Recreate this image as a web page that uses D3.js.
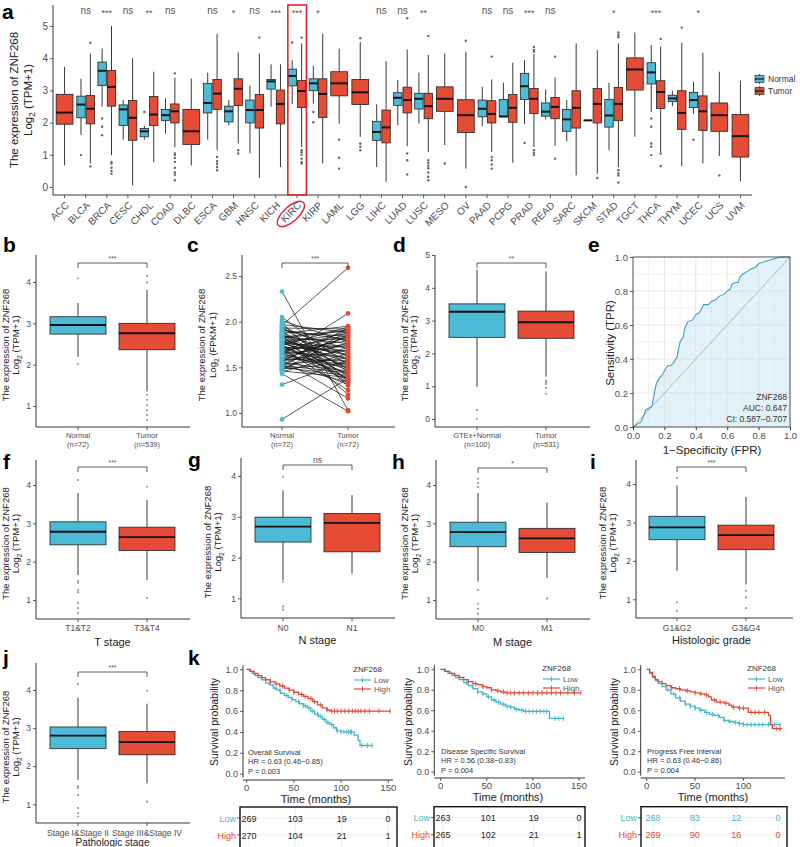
<!DOCTYPE html>
<html><head><meta charset="utf-8">
<script src="https://cdn.jsdelivr.net/npm/d3@7"></script>
<style>body{margin:0;background:#fff}svg{font-family:"Liberation Sans",Arial,Helvetica,sans-serif}</style>
</head><body><svg id="fig" width="800" height="847"></svg>
<script>
// ---------------- DATA ----------------
const cancers = ["ACC","BLCA","BRCA","CESC","CHOL","COAD","DLBC","ESCA","GBM","HNSC","KICH","KIRC","KIRP","LAML","LGG","LIHC","LUAD","LUSC","MESO","OV","PAAD","PCPG","PRAD","READ","SARC","SKCM","STAD","TGCT","THCA","THYM","UCEC","UCS","UVM"];
const sigLabels = ["","ns","***","ns","**","ns","","ns","*","ns","***","***","*","","","ns","ns","**","","","ns","ns","***","ns","","","*","","***","","*","",""];
// [lower whisker, Q1, median, Q3, upper whisker]
const normalStats = [null,[1.61,2.15,2.56,2.82,3.36],[2.49,3.15,3.61,3.88,4.3],[1.47,1.91,2.41,2.55,2.7],[1.47,1.56,1.73,1.82,1.9],[1.66,2.07,2.23,2.41,2.75],null,[1.47,2.3,2.61,3.22,3.55],[1.92,2.02,2.35,2.51,2.7],[1.04,1.99,2.39,2.7,3.15],[2.49,3.04,3.28,3.34,3.81],[2.57,3.14,3.45,3.66,3.94],[2.59,2.99,3.22,3.36,3.77],null,null,[0.62,1.45,1.71,2.04,2.57],[1.92,2.53,2.77,2.93,3.32],[1.97,2.42,2.74,2.91,3.55],null,null,[1.89,2.18,2.43,2.7,3.11],[2.18,2.18,2.19,2.72,3.24],[1.95,2.72,3.13,3.53,3.94],[2.1,2.2,2.34,2.61,3.03],[1.42,1.73,2.1,2.41,2.7],[2.07,2.07,2.07,2.07,2.07],[1.14,1.86,2.22,2.72,3.24],null,[2.33,3.2,3.56,3.86,4.41],[2.51,2.65,2.75,2.85,2.99],[2.28,2.47,2.7,2.94,3.27],null,null];
const tumorStats = [[0.67,1.95,2.31,2.88,3.73],[0.73,1.96,2.43,2.84,4.15],[0.99,2.51,3.11,3.62,5.0],[0.05,1.45,2.15,2.69,4.0],[0.78,1.91,2.25,2.81,3.58],[1.24,1.99,2.35,2.58,3.4],[0.67,1.32,1.73,2.41,3.37],[1.14,2.41,2.9,3.34,4.75],[1.35,2.53,3.05,3.36,4.18],[0.29,1.83,2.39,2.87,4.15],[0.62,1.96,2.58,3.01,3.81],[1.24,2.47,2.98,3.31,4.46],[0.73,2.16,2.89,3.36,4.77],[1.97,2.83,3.22,3.58,4.3],[1.56,2.56,2.94,3.34,4.5],[0.16,1.37,1.85,2.39,3.91],[1.27,2.3,2.7,3.1,4.27],[1.09,2.12,2.51,2.91,4.1],[1.3,2.35,2.74,3.11,4.15],[0.57,1.69,2.23,2.71,4.2],[1.09,1.99,2.27,2.68,3.34],[0.75,2.01,2.46,2.87,3.86],[1.24,2.28,2.74,3.06,4.13],[1.28,2.12,2.49,2.78,3.4],[0.36,1.83,2.46,2.99,4.46],[0.41,1.99,2.58,3.06,4.25],[0.62,2.06,2.58,3.09,4.46],[1.56,3.01,3.65,4.01,4.8],[1.09,2.44,2.95,3.3,4.36],[0.65,1.79,2.3,2.99,4.48],[0.73,1.76,2.35,2.83,4.17],[0.96,1.73,2.23,2.61,3.58],[0.18,0.93,1.58,2.25,3.3]];
const normalOutliers = [[],[0.99],[2.13,1.87,1.61],[],[2.33],[],[],[],[],[],[],[4.49],[2.33,2.01],[],[],[],[],[],[],[],[],[],[1.37],[],[],[],[],[],[2.13,1.87,1.35,1.25,0.99],[],[1.47],[],[]];
const tumorOutliers = [[],[4.48,0.64],[0.78,0.72,0.6,0.5,0.41],[],[],[3.53,1.04,0.99,0.9,0.78,0.6,0.45,0.38,0.21],[],[0.93,0.8,0.72,0.62,0.52],[1.14,1.04],[4.64],[],[4.64,1.14,1.08,1.0,0.88,0.78,0.73],[],[1.47,0.91,0.57],[4.62,1.35,1.25,1.14],[],[5.24,1.04,0.83,0.39],[4.69,0.83,0.75,0.66,0.58,0.45,0.32,0.21],[0.73],[4.54,0.0],[4.05,0.93,0.83,0.7,0.57],[],[4.35,4.26,4.2,1.14,1.06,0.99],[4.05,0.88],[],[0.28],[4.8,4.72,4.65,0.52,0.42,0.36,0.14],[],[4.6,1.04,0.65],[4.95],[],[0.36],[]];
const tpmTicks = [0,1,2,3,4,5];

// panel b
const bGroups = ["Normal\n(n=72)","Tumor\n(n=539)"];
const bStats = [[2.19,2.74,2.96,3.16,3.49],[1.35,2.36,2.76,3.0,3.81]];
const bOut = [[2.02,4.09],[4.15,3.99,1.27,1.15,1.02,0.9,0.78,0.66]];
// panel c (paired)
const cGroups = ["Normal\n(n=72)","Tumor\n(n=72)"];
const cNormal = [2.33,2.05,2.01,1.98,1.97,1.95,1.94,1.93,1.92,1.90,1.89,1.88,1.87,1.86,1.85,1.85,1.84,1.83,1.82,1.81,1.80,1.80,1.79,1.78,1.77,1.76,1.76,1.75,1.74,1.73,1.72,1.71,1.70,1.70,1.69,1.68,1.67,1.66,1.65,1.64,1.63,1.62,1.61,1.60,1.59,1.58,1.57,1.56,1.55,1.54,1.53,1.52,1.51,1.50,1.49,1.48,1.47,1.46,1.45,1.43,1.96,1.91,1.87,1.83,1.78,1.74,1.69,1.64,1.58,1.52,1.31,0.93];
const cTumor = [1.03,1.52,1.78,1.35,1.88,1.62,1.45,1.92,1.70,1.30,1.84,1.58,1.95,1.40,1.66,1.20,1.76,1.49,1.90,1.55,1.33,1.81,1.64,1.42,1.87,1.59,1.72,1.38,1.94,1.47,1.68,1.25,1.85,1.53,1.79,1.36,1.61,1.90,1.44,1.74,2.09,1.50,1.31,1.83,1.57,1.16,1.69,1.93,1.46,1.77,1.60,1.34,1.89,1.41,1.72,1.55,1.86,1.39,1.65,1.02,2.59,1.80,1.48,1.91,1.63,1.37,1.75,1.52,1.84,1.44,1.58,1.38];
// panel d
const dGroups = ["GTEx+Normal\n(n=100)","Tumor\n(n=531)"];
const dStats = [[0.98,2.49,3.27,3.51,4.55],[1.29,2.46,2.95,3.29,4.5]];
const dOut = [[0.27,0.0],[1.17,1.12,1.07,0.95,0.77]];
// panel e ROC
const rocFPR = [0,0.02,0.03,0.05,0.06,0.07,0.08,0.1,0.12,0.13,0.14,0.15,0.17,0.19,0.2,0.22,0.24,0.26,0.28,0.29,0.3,0.32,0.33,0.34,0.35,0.38,0.4,0.42,0.44,0.45,0.48,0.5,0.53,0.55,0.58,0.6,0.62,0.63,0.65,0.67,0.68,0.7,0.72,0.75,0.78,0.8,0.83,0.86,0.9,0.94,1.0];
const rocTPR = [0,0.01,0.02,0.03,0.05,0.07,0.1,0.11,0.12,0.17,0.22,0.26,0.29,0.31,0.33,0.36,0.36,0.38,0.41,0.46,0.5,0.53,0.58,0.6,0.62,0.63,0.66,0.67,0.7,0.72,0.72,0.74,0.75,0.77,0.78,0.8,0.81,0.84,0.85,0.85,0.88,0.9,0.91,0.93,0.94,0.96,0.97,0.98,0.99,1.0,1.0];
const rocTicks = [0,0.2,0.4,0.6,0.8,1.0];
// panels f-j
const fGroups = ["T1&T2","T3&T4"];
const fStats = [[1.65,2.44,2.78,3.04,3.79],[1.52,2.29,2.64,2.9,3.61]];
const fOut = [[4.13,1.5,1.45,1.26,1.2,0.92,0.79,0.66],[3.96,1.05]];
const gGroups = ["N0","N1"];
const gStats = [[1.45,2.38,2.76,2.99,3.65],[1.6,2.14,2.85,3.08,3.53]];
const gOut = [[3.98,1.41,0.8,0.72],[]];
const hGroups = ["M0","M1"];
const hStats = [[1.48,2.39,2.77,3.03,3.79],[1.57,2.24,2.61,2.87,3.54]];
const hOut = [[4.16,4.05,3.95,1.26,0.9,0.77,0.64],[1.04]];
const iGroups = ["G1&G2","G3&G4"];
const iStats = [[1.74,2.55,2.87,3.16,3.96],[1.39,2.29,2.67,2.93,3.66]];
const iOut = [[4.16,0.92,0.7],[1.22,1.05,0.77]];
const jGroups = ["Stage I&Stage II","Stage III&Stage IV"];
const jStats = [[1.64,2.46,2.8,3.03,3.8],[1.55,2.3,2.63,2.91,3.64]];
const jOut = [[4.16,1.48,1.43,1.24,0.9,0.77,0.68],[3.98,1.07]];
// panel k survival [time (months), survival]
const osLow = [[0,1],[3,0.98],[6,0.96],[9,0.94],[12,0.92],[16,0.9],[20,0.87],[24,0.85],[28,0.82],[32,0.8],[36,0.77],[40,0.75],[44,0.73],[48,0.71],[52,0.69],[56,0.67],[60,0.65],[64,0.63],[68,0.6],[72,0.57],[76,0.55],[80,0.52],[84,0.49],[88,0.47],[92,0.44],[95,0.41],[100,0.4],[112,0.4],[114,0.37],[118,0.32],[120,0.27],[133,0.27]];
const osHigh = [[0,1],[4,0.98],[8,0.96],[12,0.94],[16,0.92],[20,0.9],[25,0.88],[30,0.86],[35,0.84],[40,0.82],[45,0.8],[50,0.78],[55,0.76],[60,0.74],[65,0.72],[70,0.69],[75,0.66],[80,0.63],[85,0.61],[88,0.6],[152,0.6]];
const osLowCens = [30,35,42,48,55,60,62,66,70,75,78,82,86,90,96,100,103,106,108,110,111,122,128,133];
const osHighCens = [25,32,38,45,50,58,62,68,72,78,85,90,93,96,100,104,108,112,115,118,121,125,130,140,152];
const dssLow = [[0,1],[4,0.98],[8,0.96],[12,0.94],[16,0.92],[20,0.9],[25,0.87],[30,0.84],[35,0.81],[40,0.78],[45,0.76],[50,0.73],[55,0.7],[60,0.68],[65,0.66],[70,0.64],[75,0.63],[80,0.61],[85,0.6],[90,0.59],[116,0.59],[118,0.52],[133,0.52]];
const dssHigh = [[0,1],[5,0.98],[10,0.96],[15,0.94],[20,0.92],[25,0.9],[30,0.88],[35,0.86],[40,0.85],[45,0.83],[50,0.82],[55,0.8],[60,0.79],[65,0.78],[70,0.77],[152,0.77]];
const dssLowCens = [28,34,40,46,52,58,63,68,72,76,82,88,92,96,100,104,108,112,115,124,128,133];
const dssHighCens = [30,38,46,55,62,68,72,76,80,85,90,95,100,105,110,115,120,125,130,138,145,152];
const pfiLow = [[0,1],[3,0.96],[6,0.92],[9,0.89],[12,0.86],[16,0.83],[20,0.8],[25,0.76],[30,0.72],[35,0.69],[40,0.66],[45,0.64],[50,0.62],[55,0.6],[60,0.58],[65,0.56],[70,0.55],[75,0.53],[80,0.5],[85,0.49],[90,0.48],[95,0.47],[100,0.46],[138,0.46]];
const pfiHigh = [[0,1],[3,0.97],[6,0.93],[9,0.9],[12,0.88],[16,0.86],[20,0.84],[25,0.82],[30,0.81],[35,0.8],[40,0.79],[45,0.78],[50,0.77],[55,0.76],[60,0.75],[64,0.73],[67,0.7],[72,0.68],[80,0.67],[85,0.65],[88,0.63],[95,0.62],[102,0.62],[105,0.58],[120,0.58],[126,0.55],[128,0.46],[130,0.42],[140,0.42]];
const pfiLowCens = [22,28,34,40,45,50,56,62,68,74,80,86,92,96,100,104,108,112,116,120,126,132,138];
const pfiHighCens = [26,34,42,50,56,62,70,76,82,90,96,100,108,112,116,122,134,138];
const kmTimeTicks = [0,50,100,150];
const kmSurvTicks = [0,0.2,0.4,0.6,0.8,1.0];
const riskTimes = [0,50,100,150];
const osRisk = [[269,103,19,0],[270,104,21,1]];
const dssRisk = [[263,101,19,0],[265,102,21,1]];
const pfiRisk = [[268,83,12,0],[269,90,16,0]];

// ---------------- DRAW ----------------
const svg = d3.select("#fig");
const BLUE = "#4DBBD5", RED = "#E64B35", TXT = "#4d4d4d";

function txt(g, x, y, s, o = {}) {
  const t = g.append("text").attr("x", x).attr("y", y).text(s)
    .attr("font-size", o.size || 9).attr("fill", o.fill || "#222")
    .attr("text-anchor", o.anchor || "start");
  if (o.weight) t.attr("font-weight", o.weight);
  if (o.rotate != null) t.attr("transform", `rotate(${o.rotate},${x},${y})`);
  if (o.dy) t.attr("dy", o.dy);
  return t;
}
function line(g, x1, y1, x2, y2, stroke = "#000", w = 0.8) {
  return g.append("line").attr("x1", x1).attr("y1", y1).attr("x2", x2).attr("y2", y2)
    .attr("stroke", stroke).attr("stroke-width", w);
}
function yAxis(g, scale, x, ticks, fmt, size) {
  const ax = g.append("g").attr("transform", `translate(${x},0)`)
    .call(d3.axisLeft(scale).tickValues(ticks).tickFormat(fmt).tickSize(3).tickPadding(2));
  ax.select(".domain").remove();
  ax.attr("font-family", null).attr("font-size", size);
  ax.selectAll("text").attr("fill", TXT);
  ax.selectAll(".tick line").attr("stroke", "#333").attr("stroke-width", 0.8);
  return ax;
}
function yTitle(g, x1, x2, cy, size, unit) {
  txt(g, x1, cy, "The expression of ZNF268", { size, anchor: "middle", rotate: -90, dy: "0.35em" });
  const t = g.append("text").attr("transform", `translate(${x2},${cy}) rotate(-90)`)
    .attr("text-anchor", "middle").attr("font-size", size).attr("fill", "#222").attr("dy", "0.35em");
  t.append("tspan").text("Log");
  t.append("tspan").text("2").attr("font-size", size * 0.72).attr("dy", size * 0.3);
  t.append("tspan").text(" " + unit).attr("dy", -size * 0.3);
}
function box(g, cx, w, s, color, y, medW = 2) {
  const [lo, q1, med, q3, hi] = s;
  line(g, cx, y(hi), cx, y(q3), "#222", 0.9);
  line(g, cx, y(q1), cx, y(lo), "#222", 0.9);
  g.append("rect").attr("x", cx - w / 2).attr("y", y(q3)).attr("width", w)
    .attr("height", Math.max(0.01, y(q1) - y(q3))).attr("fill", color)
    .attr("stroke", "#222").attr("stroke-width", 0.8);
  line(g, cx - w / 2, y(med), cx + w / 2, y(med), "#111", medW);
}
function letter(s, x, y) { txt(svg, x, y, s, { size: 21, weight: "bold", fill: "#000" }); }

// ---------- panel a ----------
{
  const g = svg.append("g");
  const y = d3.scaleLinear().domain([0, 5]).range([187, 26]);
  const x = d3.scaleBand().domain(cancers).range([54, 751]);
  const st = x.step();
  const cx = c => x(c) + st / 2;
  line(g, 53, 5, 53, 195);
  line(g, 53, 195, 752, 195);
  yAxis(g, y, 53, tpmTicks, d3.format("d"), 10);
  cancers.forEach((c, i) => {
    const c0 = cx(c);
    line(g, c0, 195, c0, 198, "#333");
    const n = normalStats[i], t = tumorStats[i];
    if (n) {
      box(g, c0 - 4.7, 8.4, n, BLUE, y);
      box(g, c0 + 4.7, 8.4, t, RED, y);
      normalOutliers[i].forEach(v => g.append("circle").attr("cx", c0 - 4.7).attr("cy", y(v)).attr("r", 1.2).attr("fill", "#666"));
      tumorOutliers[i].forEach(v => g.append("circle").attr("cx", c0 + 4.7).attr("cy", y(v)).attr("r", 1.2).attr("fill", "#666"));
    } else {
      box(g, c0, 16.8, t, RED, y);
      tumorOutliers[i].forEach(v => g.append("circle").attr("cx", c0).attr("cy", y(v)).attr("r", 1.2).attr("fill", "#666"));
    }
    const sg = sigLabels[i];
    if (sg) txt(g, c0, sg === "ns" ? 14 : 16, sg, { size: sg === "ns" ? 10 : 9, anchor: "middle", fill: "#555" });
    txt(g, c0 + 5, 206, c, { size: 10, anchor: "end", rotate: -45, fill: TXT });
  });
  // highlight KIRC
  g.append("rect").attr("x", x("KIRC") + 1.5).attr("y", 5).attr("width", st - 2.5).attr("height", 190)
    .attr("fill", "none").attr("stroke", "#e0262b").attr("stroke-width", 1.6);
  g.append("ellipse").attr("cx", cx("KIRC") - 6).attr("cy", 214).attr("rx", 17).attr("ry", 7.5)
    .attr("transform", `rotate(-42,${cx("KIRC") - 6},214)`)
    .attr("fill", "none").attr("stroke", "#e0262b").attr("stroke-width", 1.4);
  yTitle(g, 14, 28, 100, 11.5, "(TPM+1)");
  // legend
  [["Normal", BLUE, 79], ["Tumor", RED, 91]].forEach(([lab, col, ly]) => {
    line(g, 759.5, ly - 5, 759.5, ly + 5, "#333", 0.8);
    g.append("rect").attr("x", 755).attr("y", ly - 3.5).attr("width", 9).attr("height", 7).attr("fill", col).attr("stroke", "#333").attr("stroke-width", 0.7);
    line(g, 755, ly, 764, ly, "#111", 1.2);
    txt(g, 768, ly + 3, lab, { size: 8.5, fill: "#333" });
  });
  letter("a", 2, 19);
}

// ---------- generic two-group box panels ----------
function boxPanel(c) {
  const g = svg.append("g");
  const y = d3.scaleLinear().domain(c.yDom).range(c.yRng);
  const x = d3.scalePoint().domain(c.groups).range(c.xRng);
  line(g, c.ax, c.top, c.ax, c.bot);
  line(g, c.ax, c.bot, c.right, c.bot);
  yAxis(g, y, c.ax, c.ticks, d3.format("d"), 8.5);
  c.groups.forEach((gr, i) => {
    const x0 = x(gr);
    line(g, x0, c.bot, x0, c.bot + 3, "#333");
    box(g, x0, 56, c.stats[i], i ? RED : BLUE, y, 1.8);
    c.outs[i].forEach(v => g.append("circle").attr("cx", x0).attr("cy", y(v)).attr("r", 1.1).attr("fill", "#999"));
    const parts = gr.split("\n");
    parts.forEach((s, k) => txt(g, x0, c.labY + k * 8.5, s, { size: parts.length > 1 ? 7.5 : 8.5, anchor: "middle", fill: TXT }));
  });
  if (c.xTitle) txt(g, (c.xRng[0] + c.xRng[1]) / 2, c.titleY, c.xTitle, { size: c.titleSize || 11, anchor: "middle", fill: "#222" });
  // bracket
  const [x1, x2] = c.xRng;
  line(g, x1, c.brY, x2, c.brY, "#333", 0.8);
  line(g, x1, c.brY, x1, c.brY + 5, "#333", 0.8);
  line(g, x2, c.brY, x2, c.brY + 5, "#333", 0.8);
  txt(g, (x1 + x2) / 2, c.brY - 2, c.sig, { size: c.sig === "ns" ? 8.5 : 7, anchor: "middle", fill: "#555" });
  yTitle(g, c.ax + c.t1, c.ax + c.t2, (c.top + c.bot) / 2 + 4, 9.5, c.unit || "(TPM+1)");
  letter(c.letter, c.lx, c.ly);
}

boxPanel({ letter: "b", lx: 3, ly: 252, groups: bGroups, stats: bStats, outs: bOut, yDom: [1, 4], yRng: [406, 282], ticks: [1, 2, 3, 4],
  xRng: [78, 147], ax: 36, top: 255, bot: 427, right: 190, labY: 438, brY: 263, sig: "***", t1: -30, t2: -20 });
boxPanel({ letter: "d", lx: 393, ly: 252, groups: dGroups, stats: dStats, outs: dOut, yDom: [0, 5], yRng: [419, 255], ticks: [0, 1, 2, 3, 4, 5],
  xRng: [477, 546], ax: 435, top: 255, bot: 427, right: 590, labY: 438, brY: 263, sig: "**", t1: -30, t2: -21 });
boxPanel({ letter: "f", lx: 3, ly: 469, groups: fGroups, stats: fStats, outs: fOut, yDom: [1, 4], yRng: [600, 485], ticks: [1, 2, 3, 4],
  xRng: [78, 147], ax: 36, top: 460, bot: 619, right: 190, labY: 631, xTitle: "T stage", titleY: 646, brY: 467, sig: "***", t1: -30, t2: -20 });
boxPanel({ letter: "g", lx: 188, ly: 467, groups: gGroups, stats: gStats, outs: gOut, yDom: [1, 4], yRng: [598.3, 476], ticks: [1, 2, 3, 4],
  xRng: [283, 352], ax: 241, top: 458, bot: 618, right: 395, labY: 631, xTitle: "N stage", titleY: 644, brY: 465, sig: "ns", t1: -33, t2: -23 });
boxPanel({ letter: "h", lx: 392, ly: 469, groups: hGroups, stats: hStats, outs: hOut, yDom: [1, 4], yRng: [600, 485], ticks: [1, 2, 3, 4],
  xRng: [478, 547], ax: 436, top: 460, bot: 619, right: 590, labY: 631, xTitle: "M stage", titleY: 646, brY: 468, sig: "*", t1: -31, t2: -21 });
boxPanel({ letter: "i", lx: 590, ly: 469, groups: iGroups, stats: iStats, outs: iOut, yDom: [1, 4], yRng: [599.3, 484], ticks: [1, 2, 3, 4],
  xRng: [677, 746], ax: 636, top: 460, bot: 618, right: 793, labY: 631, xTitle: "Histologic grade", titleY: 644, brY: 467, sig: "***", t1: -33, t2: -23 });
boxPanel({ letter: "j", lx: 3, ly: 665, groups: jGroups, stats: jStats, outs: jOut, yDom: [1, 4], yRng: [804.3, 690], ticks: [1, 2, 3, 4],
  xRng: [78, 147], ax: 36, top: 663, bot: 823, right: 190, labY: 836, xTitle: "Pathologic stage", titleY: 846, titleSize: 10, brY: 672, sig: "***", t1: -30, t2: -20 });

// ---------- panel c (paired) ----------
{
  const g = svg.append("g");
  const y = d3.scaleLinear().domain([1.0, 2.5]).range([413, 276]);
  const x = d3.scalePoint().domain(cGroups).range([282, 348]);
  line(g, 242, 255, 242, 427);
  line(g, 242, 427, 395, 427);
  yAxis(g, y, 242, [1.0, 1.5, 2.0, 2.5], d3.format(".1f"), 8.5);
  const xn = x(cGroups[0]), xt = x(cGroups[1]);
  cNormal.forEach((v, i) => line(g, xn, y(v), xt, y(cTumor[i]), "#111", 0.7));
  cNormal.forEach(v => g.append("circle").attr("cx", xn).attr("cy", y(v)).attr("r", 2.4).attr("fill", BLUE));
  cTumor.forEach(v => g.append("circle").attr("cx", xt).attr("cy", y(v)).attr("r", 2.4).attr("fill", RED));
  cGroups.forEach(gr => {
    line(g, x(gr), 427, x(gr), 430, "#333");
    gr.split("\n").forEach((s, k) => txt(g, x(gr), 438 + k * 8.5, s, { size: 7.5, anchor: "middle", fill: TXT }));
  });
  line(g, xn, 263, xt, 263, "#333");
  line(g, xn, 263, xn, 268, "#333");
  line(g, xt, 263, xt, 268, "#333");
  txt(g, (xn + xt) / 2, 261, "***", { size: 7, anchor: "middle", fill: "#555" });
  yTitle(g, 202, 213, 345, 9.5, "(FPKM+1)");
  letter("c", 187, 252);
}

// ---------- panel e ROC ----------
{
  const g = svg.append("g");
  const X0 = 633, X1 = 790, Y0 = 427, Y1 = 257;
  const x = d3.scaleLinear().domain([0, 1]).range([X0, X1]);
  const y = d3.scaleLinear().domain([0, 1]).range([Y0, Y1]);
  g.append("rect").attr("x", X0).attr("y", Y1).attr("width", X1 - X0).attr("height", Y0 - Y1).attr("fill", "#fff");
  d3.range(0, 11).forEach(k => {
    const v = k / 10, w = k % 2 ? 0.5 : 0.9;
    line(g, x(v), Y1, x(v), Y0, "#e4e4e4", w);
    line(g, X0, y(v), X1, y(v), "#e4e4e4", w);
  });
  const pts = rocFPR.map((f, i) => [f, rocTPR[i]]);
  g.append("path").datum(pts)
    .attr("d", d3.area().x(d => x(d[0])).y0(y(0)).y1(d => y(d[1])))
    .attr("fill", "#bfe2f0").attr("fill-opacity", 0.45);
  line(g, x(0), y(0), x(1), y(1), "#b0b0b0", 0.9);
  g.append("path").datum(pts).attr("d", d3.line().x(d => x(d[0])).y(d => y(d[1])))
    .attr("fill", "none").attr("stroke", "#3f9fc4").attr("stroke-width", 1.1);
  g.append("rect").attr("x", X0).attr("y", Y1).attr("width", X1 - X0).attr("height", Y0 - Y1)
    .attr("fill", "none").attr("stroke", "#333").attr("stroke-width", 0.8);
  yAxis(g, y, X0, rocTicks, d3.format(".1f"), 9.5);
  const xa = g.append("g").attr("transform", `translate(0,${Y0})`)
    .call(d3.axisBottom(x).tickValues(rocTicks).tickFormat(d3.format(".1f")).tickSize(3).tickPadding(2));
  xa.select(".domain").remove();
  xa.attr("font-family", null).attr("font-size", 9.5);
  xa.selectAll("text").attr("fill", TXT);
  xa.selectAll(".tick line").attr("stroke", "#333");
  txt(g, 712, 454, "1\u2212Specificity (FPR)", { size: 11.5, anchor: "middle" });
  txt(g, 610, 343, "Sensitivity (TPR)", { size: 11.5, anchor: "middle", rotate: -90, dy: "0.35em" });
  txt(g, 787, 400, "ZNF268", { size: 8.5, anchor: "end", fill: "#333" });
  txt(g, 787, 411, "AUC: 0.647", { size: 8.5, anchor: "end", fill: "#333" });
  txt(g, 787, 422, "CI: 0.587\u22120.707", { size: 8.5, anchor: "end", fill: "#333" });
  letter("e", 588, 252);
}

// ---------- panel k survival ----------
const LOWC = "#3fb6c8", HIGHC = "#e2452f";
function stepVal(curve, t) { let s = curve[0][1]; for (const p of curve) { if (p[0] <= t) s = p[1]; } return s; }
function kmPanel(c) {
  const g = svg.append("g");
  const x = d3.scaleLinear().domain([0, 150]).range(c.xRng);
  const y = d3.scaleLinear().domain([0, 1]).range(c.yRng);
  line(g, c.ax, c.yRng[1] - 4, c.ax, c.yRng[0] + 4);
  line(g, c.ax, c.axY, c.xEnd, c.axY);
  yAxis(g, y, c.ax, kmSurvTicks, d3.format(".1f"), 9);
  c.xTicks.forEach(t => {
    line(g, x(t), c.axY, x(t), c.axY + 3, "#333");
    txt(g, x(t), c.axY + 11, String(t), { size: 9.5, anchor: "middle", fill: TXT });
  });
  const ln = d3.line().x(d => x(d[0])).y(d => y(d[1])).curve(d3.curveStepAfter);
  [[c.low, c.lowC, LOWC], [c.high, c.highC, HIGHC]].forEach(([cv, cens, col]) => {
    g.append("path").datum(cv).attr("d", ln).attr("fill", "none").attr("stroke", col).attr("stroke-width", 1.3);
    cens.forEach(t => { const yy = y(stepVal(cv, t)); line(g, x(t), yy - 2.5, x(t), yy + 2.5, col, 0.9); });
  });
  txt(g, c.titleX, c.axY + 23, "Time (months)", { size: 11, anchor: "middle" });
  txt(g, c.ylabX, 722, "Survival probability", { size: 10.5, anchor: "middle", rotate: -90, dy: "0.35em" });
  c.note.forEach((s, k) => txt(g, c.noteX, c.noteY + k * 9.3, s, { size: 7.5, fill: "#333" }));
  // legend
  txt(g, c.legX, c.legY + 3, "ZNF268", { size: 8, fill: "#333" });
  [["Low", LOWC, c.legY + 11], ["High", HIGHC, c.legY + 20]].forEach(([lab, col, ly]) => {
    line(g, c.legX + 1, ly, c.legX + 18, ly, col, 1.2);
    line(g, c.legX + 9.5, ly - 2.5, c.legX + 9.5, ly + 2.5, col, 0.9);
    txt(g, c.legX + 21, ly + 3, lab, { size: 8, fill: "#555" });
  });
  // risk table
  const tx = d3.scaleLinear().domain([0, 150]).range(c.tRng);
  const rowsY = [c.tTop + 11, c.tTop + 28];
  riskTimes.forEach(t => line(g, tx(t), c.tTop, tx(t), 850, "#e6e6e6", 0.6));
  rowsY.forEach(ry => line(g, c.tX0, ry, c.tX1, ry, "#e6e6e6", 0.6));
  c.risk.forEach((row, r) => {
    const col = r ? HIGHC : LOWC;
    txt(g, c.tX0 - 4, rowsY[r] + 3.5, r ? "High" : "Low", { size: 9, anchor: "end", fill: col });
    line(g, c.tX0 - 3, rowsY[r], c.tX0, rowsY[r], "#333");
    row.forEach((v, k) => txt(g, tx(riskTimes[k]), rowsY[r] + 3.5, String(v), { size: 9, anchor: "middle", fill: c.colored ? col : "#222" }));
  });
  g.append("rect").attr("x", c.tX0).attr("y", c.tTop).attr("width", c.tX1 - c.tX0).attr("height", 60)
    .attr("fill", "none").attr("stroke", "#111").attr("stroke-width", 1.4);
}
kmPanel({ xRng: [246.7, 388.3], yRng: [773.7, 669.3], ax: 243, axY: 780, xEnd: 393, xTicks: kmTimeTicks,
  low: osLow, high: osHigh, lowC: osLowCens, highC: osHighCens, titleX: 316, ylabX: 214,
  note: ["Overall Survival", "HR = 0.63 (0.46\u22120.85)", "P = 0.003"], noteX: 248, noteY: 755,
  legX: 353, legY: 669, tRng: [249, 388], tX0: 240, tX1: 397, tTop: 807, risk: osRisk, colored: false });
kmPanel({ xRng: [440.7, 579], yRng: [771.7, 669.3], ax: 434.3, axY: 778, xEnd: 585, xTicks: kmTimeTicks,
  low: dssLow, high: dssHigh, lowC: dssLowCens, highC: dssHighCens, titleX: 508, ylabX: 408,
  note: ["Disease Specific Survival", "HR = 0.56 (0.38\u22120.83)", "P = 0.004"], noteX: 441, noteY: 754,
  legX: 542, legY: 668, tRng: [443, 579], tX0: 434, tX1: 585, tTop: 806.7, risk: dssRisk, colored: false });
kmPanel({ xRng: [646.7, 791.7], yRng: [771.7, 669.3], ax: 640.7, axY: 778, xEnd: 785, xTicks: [0, 50, 100],
  low: pfiLow, high: pfiHigh, lowC: pfiLowCens, highC: pfiHighCens, titleX: 713, ylabX: 614,
  note: ["Progress Free Interval", "HR = 0.63 (0.46\u22120.86)", "P = 0.004"], noteX: 647, noteY: 754,
  legX: 747, legY: 668, tRng: [653, 778], tX0: 641, tX1: 787, tTop: 806.7, risk: pfiRisk, colored: true });
letter("k", 188, 665);
</script></body></html>
